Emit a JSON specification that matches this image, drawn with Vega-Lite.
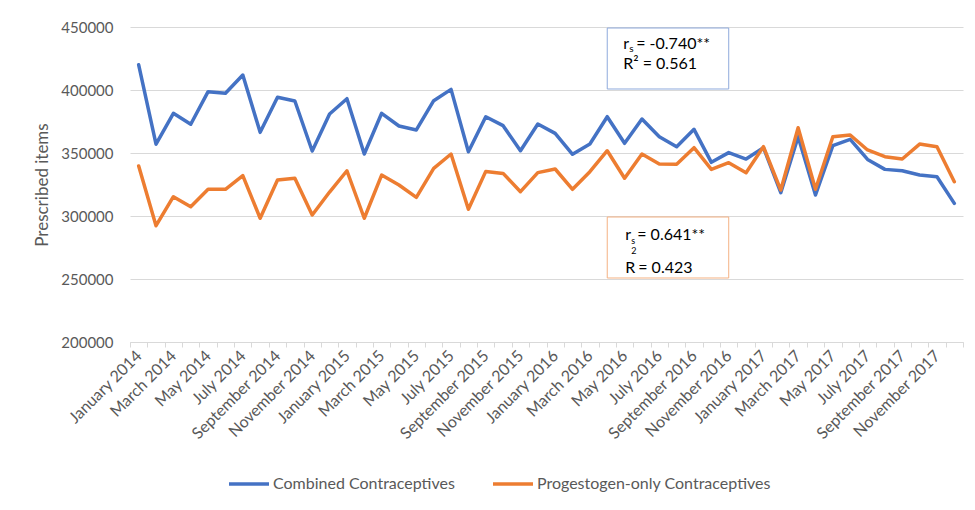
{
  "$schema": "https://vega.github.io/schema/vega-lite/v6.json",
  "width": 833,
  "height": 315,
  "autosize": "none",
  "padding": {"left": 130, "top": 27, "right": 12, "bottom": 168},
  "background": "white",
  "config": {"font": "Lato", "view": {"stroke": null}},
  "datasets": {
    "rx": [
      {"month": "January 2014", "series": "Combined Contraceptives", "items": 420000},
      {"month": "February 2014", "series": "Combined Contraceptives", "items": 357000},
      {"month": "March 2014", "series": "Combined Contraceptives", "items": 381500},
      {"month": "April 2014", "series": "Combined Contraceptives", "items": 372800},
      {"month": "May 2014", "series": "Combined Contraceptives", "items": 398700},
      {"month": "June 2014", "series": "Combined Contraceptives", "items": 397400},
      {"month": "July 2014", "series": "Combined Contraceptives", "items": 411900},
      {"month": "August 2014", "series": "Combined Contraceptives", "items": 366400},
      {"month": "September 2014", "series": "Combined Contraceptives", "items": 394200},
      {"month": "October 2014", "series": "Combined Contraceptives", "items": 391300},
      {"month": "November 2014", "series": "Combined Contraceptives", "items": 351600},
      {"month": "December 2014", "series": "Combined Contraceptives", "items": 381000},
      {"month": "January 2015", "series": "Combined Contraceptives", "items": 393100},
      {"month": "February 2015", "series": "Combined Contraceptives", "items": 349200},
      {"month": "March 2015", "series": "Combined Contraceptives", "items": 381500},
      {"month": "April 2015", "series": "Combined Contraceptives", "items": 371400},
      {"month": "May 2015", "series": "Combined Contraceptives", "items": 368300},
      {"month": "June 2015", "series": "Combined Contraceptives", "items": 391500},
      {"month": "July 2015", "series": "Combined Contraceptives", "items": 400500},
      {"month": "August 2015", "series": "Combined Contraceptives", "items": 351000},
      {"month": "September 2015", "series": "Combined Contraceptives", "items": 378800},
      {"month": "October 2015", "series": "Combined Contraceptives", "items": 371700},
      {"month": "November 2015", "series": "Combined Contraceptives", "items": 351800},
      {"month": "December 2015", "series": "Combined Contraceptives", "items": 373000},
      {"month": "January 2016", "series": "Combined Contraceptives", "items": 365600},
      {"month": "February 2016", "series": "Combined Contraceptives", "items": 349000},
      {"month": "March 2016", "series": "Combined Contraceptives", "items": 357100},
      {"month": "April 2016", "series": "Combined Contraceptives", "items": 378800},
      {"month": "May 2016", "series": "Combined Contraceptives", "items": 357700},
      {"month": "June 2016", "series": "Combined Contraceptives", "items": 377000},
      {"month": "July 2016", "series": "Combined Contraceptives", "items": 362900},
      {"month": "August 2016", "series": "Combined Contraceptives", "items": 355000},
      {"month": "September 2016", "series": "Combined Contraceptives", "items": 368800},
      {"month": "October 2016", "series": "Combined Contraceptives", "items": 342600},
      {"month": "November 2016", "series": "Combined Contraceptives", "items": 350300},
      {"month": "December 2016", "series": "Combined Contraceptives", "items": 345200},
      {"month": "January 2017", "series": "Combined Contraceptives", "items": 354200},
      {"month": "February 2017", "series": "Combined Contraceptives", "items": 318500},
      {"month": "March 2017", "series": "Combined Contraceptives", "items": 362900},
      {"month": "April 2017", "series": "Combined Contraceptives", "items": 316700},
      {"month": "May 2017", "series": "Combined Contraceptives", "items": 355800},
      {"month": "June 2017", "series": "Combined Contraceptives", "items": 360800},
      {"month": "July 2017", "series": "Combined Contraceptives", "items": 344900},
      {"month": "August 2017", "series": "Combined Contraceptives", "items": 337000},
      {"month": "September 2017", "series": "Combined Contraceptives", "items": 335900},
      {"month": "October 2017", "series": "Combined Contraceptives", "items": 332500},
      {"month": "November 2017", "series": "Combined Contraceptives", "items": 331200},
      {"month": "December 2017", "series": "Combined Contraceptives", "items": 310000},
      {"month": "January 2014", "series": "Progestogen-only Contraceptives", "items": 339700},
      {"month": "February 2014", "series": "Progestogen-only Contraceptives", "items": 292300},
      {"month": "March 2014", "series": "Progestogen-only Contraceptives", "items": 315300},
      {"month": "April 2014", "series": "Progestogen-only Contraceptives", "items": 307400},
      {"month": "May 2014", "series": "Progestogen-only Contraceptives", "items": 321200},
      {"month": "June 2014", "series": "Progestogen-only Contraceptives", "items": 321200},
      {"month": "July 2014", "series": "Progestogen-only Contraceptives", "items": 332000},
      {"month": "August 2014", "series": "Progestogen-only Contraceptives", "items": 298200},
      {"month": "September 2014", "series": "Progestogen-only Contraceptives", "items": 328600},
      {"month": "October 2014", "series": "Progestogen-only Contraceptives", "items": 330000},
      {"month": "November 2014", "series": "Progestogen-only Contraceptives", "items": 300800},
      {"month": "December 2014", "series": "Progestogen-only Contraceptives", "items": 319000},
      {"month": "January 2015", "series": "Progestogen-only Contraceptives", "items": 335900},
      {"month": "February 2015", "series": "Progestogen-only Contraceptives", "items": 298200},
      {"month": "March 2015", "series": "Progestogen-only Contraceptives", "items": 332500},
      {"month": "April 2015", "series": "Progestogen-only Contraceptives", "items": 324600},
      {"month": "May 2015", "series": "Progestogen-only Contraceptives", "items": 314800},
      {"month": "June 2015", "series": "Progestogen-only Contraceptives", "items": 337800},
      {"month": "July 2015", "series": "Progestogen-only Contraceptives", "items": 349200},
      {"month": "August 2015", "series": "Progestogen-only Contraceptives", "items": 305300},
      {"month": "September 2015", "series": "Progestogen-only Contraceptives", "items": 335400},
      {"month": "October 2015", "series": "Progestogen-only Contraceptives", "items": 333800},
      {"month": "November 2015", "series": "Progestogen-only Contraceptives", "items": 319300},
      {"month": "December 2015", "series": "Progestogen-only Contraceptives", "items": 334400},
      {"month": "January 2016", "series": "Progestogen-only Contraceptives", "items": 337300},
      {"month": "February 2016", "series": "Progestogen-only Contraceptives", "items": 321200},
      {"month": "March 2016", "series": "Progestogen-only Contraceptives", "items": 335200},
      {"month": "April 2016", "series": "Progestogen-only Contraceptives", "items": 351800},
      {"month": "May 2016", "series": "Progestogen-only Contraceptives", "items": 330000},
      {"month": "June 2016", "series": "Progestogen-only Contraceptives", "items": 349200},
      {"month": "July 2016", "series": "Progestogen-only Contraceptives", "items": 341300},
      {"month": "August 2016", "series": "Progestogen-only Contraceptives", "items": 341000},
      {"month": "September 2016", "series": "Progestogen-only Contraceptives", "items": 354200},
      {"month": "October 2016", "series": "Progestogen-only Contraceptives", "items": 337000},
      {"month": "November 2016", "series": "Progestogen-only Contraceptives", "items": 342300},
      {"month": "December 2016", "series": "Progestogen-only Contraceptives", "items": 334400},
      {"month": "January 2017", "series": "Progestogen-only Contraceptives", "items": 355000},
      {"month": "February 2017", "series": "Progestogen-only Contraceptives", "items": 320600},
      {"month": "March 2017", "series": "Progestogen-only Contraceptives", "items": 370100},
      {"month": "April 2017", "series": "Progestogen-only Contraceptives", "items": 321200},
      {"month": "May 2017", "series": "Progestogen-only Contraceptives", "items": 362900},
      {"month": "June 2017", "series": "Progestogen-only Contraceptives", "items": 364300},
      {"month": "July 2017", "series": "Progestogen-only Contraceptives", "items": 352400},
      {"month": "August 2017", "series": "Progestogen-only Contraceptives", "items": 347100},
      {"month": "September 2017", "series": "Progestogen-only Contraceptives", "items": 345200},
      {"month": "October 2017", "series": "Progestogen-only Contraceptives", "items": 357100},
      {"month": "November 2017", "series": "Progestogen-only Contraceptives", "items": 355000},
      {"month": "December 2017", "series": "Progestogen-only Contraceptives", "items": 327200}
    ]
  },
  "layer": [
    {
      "data": {"name": "rx"},
      "mark": {"type": "line", "strokeWidth": 3.5, "strokeJoin": "round", "strokeCap": "round"},
      "encoding": {
        "x": {
          "field": "month",
          "type": "ordinal",
          "sort": null,
          "scale": {
            "type": "band",
            "paddingInner": 0,
            "paddingOuter": 0,
            "domain": ["January 2014","February 2014","March 2014","April 2014","May 2014","June 2014","July 2014","August 2014","September 2014","October 2014","November 2014","December 2014","January 2015","February 2015","March 2015","April 2015","May 2015","June 2015","July 2015","August 2015","September 2015","October 2015","November 2015","December 2015","January 2016","February 2016","March 2016","April 2016","May 2016","June 2016","July 2016","August 2016","September 2016","October 2016","November 2016","December 2016","January 2017","February 2017","March 2017","April 2017","May 2017","June 2017","July 2017","August 2017","September 2017","October 2017","November 2017","December 2017"]
          },
          "axis": {
            "title": null,
            "grid": false,
            "labelAngle": -45,
            "labelAlign": "right",
            "labelBaseline": "middle",
            "labelFontSize": 16,
            "labelColor": "#595959",
            "labelPadding": 6,
            "labelOverlap": false,
            "labelLimit": 0,
            "labelExpr": "indexof(['January','March','May','July','September','November'], split(datum.value, ' ')[0]) >= 0 ? datum.value : ''",
            "tickBand": "extent",
            "tickColor": "#d9d9d9",
            "tickSize": 5,
            "domainColor": "#d9d9d9",
            "domainWidth": 1
          }
        },
        "y": {
          "field": "items",
          "type": "quantitative",
          "scale": {"domain": [200000, 450000], "nice": false, "zero": false},
          "axis": {
            "title": "Prescribed items",
            "titleFontSize": 17,
            "titleFontWeight": "normal",
            "titleColor": "#595959",
            "titlePadding": 9,
            "values": [200000, 250000, 300000, 350000, 400000, 450000],
            "format": "d",
            "labelFontSize": 15,
            "labelColor": "#595959",
            "labelPadding": 17,
            "domain": false,
            "ticks": false,
            "gridColor": "#d9d9d9",
            "gridWidth": 1
          }
        },
        "color": {
          "field": "series",
          "type": "nominal",
          "scale": {"domain": ["Combined Contraceptives", "Progestogen-only Contraceptives"], "range": ["#4472C4", "#ED7D31"]},
          "legend": {
            "title": null,
            "orient": "none",
            "legendX": 97,
            "legendY": 435,
            "direction": "horizontal",
            "symbolType": "stroke",
            "symbolSize": 1600,
            "symbolStrokeWidth": 3.5,
            "labelFontSize": 16,
            "labelLimit": 0,
            "labelColor": "#595959",
            "labelOffset": 2,
            "columnPadding": 31
          }
        }
      }
    },
    {
      "data": {"values": [{"box": "combined"}]},
      "mark": {"type": "rect", "fill": "white", "fillOpacity": 0, "stroke": "#8FAADC", "strokeWidth": 1},
      "encoding": {
        "x": {"datum": "April 2016", "type": "ordinal", "bandPosition": 0.5},
        "x2": {"datum": "November 2016"},
        "y": {"datum": 449200, "type": "quantitative"},
        "y2": {"datum": 400800}
      }
    },
    {
      "data": {"values": [{"box": "progestogen"}]},
      "mark": {"type": "rect", "fill": "white", "fillOpacity": 0, "stroke": "#F4B183", "strokeWidth": 1},
      "encoding": {
        "x": {"datum": "April 2016", "type": "ordinal", "bandPosition": 0.5},
        "x2": {"datum": "November 2016"},
        "y": {"datum": 299200, "type": "quantitative"},
        "y2": {"datum": 250800}
      }
    },
    {
      "data": {"values": [{"box": "combined"}]},
      "mark": {"type": "text", "align": "left", "baseline": "middle", "fontSize": 16, "color": "#000000", "dx": 16},
      "encoding": {"x": {"datum": "April 2016", "type": "ordinal"}, "y": {"datum": 436300, "type": "quantitative"}, "text": {"value": "r"}}
    },
    {
      "data": {"values": [{"box": "combined"}]},
      "mark": {"type": "text", "align": "left", "baseline": "middle", "fontSize": 10, "color": "#000000", "dx": 22, "dy": 5},
      "encoding": {"x": {"datum": "April 2016", "type": "ordinal"}, "y": {"datum": 436300, "type": "quantitative"}, "text": {"value": "s"}}
    },
    {
      "data": {"values": [{"box": "combined"}]},
      "mark": {"type": "text", "align": "left", "baseline": "middle", "fontSize": 16, "color": "#000000", "dx": 29},
      "encoding": {"x": {"datum": "April 2016", "type": "ordinal"}, "y": {"datum": 436300, "type": "quantitative"}, "text": {"value": "= -0.740**"}}
    },
    {
      "data": {"values": [{"box": "combined"}]},
      "mark": {"type": "text", "align": "left", "baseline": "middle", "fontSize": 16, "color": "#000000", "dx": 16},
      "encoding": {"x": {"datum": "April 2016", "type": "ordinal"}, "y": {"datum": 420900, "type": "quantitative"}, "text": {"value": "R² = 0.561"}}
    },
    {
      "data": {"values": [{"box": "progestogen"}]},
      "mark": {"type": "text", "align": "left", "baseline": "middle", "fontSize": 16, "color": "#000000", "dx": 18},
      "encoding": {"x": {"datum": "April 2016", "type": "ordinal"}, "y": {"datum": 284900, "type": "quantitative"}, "text": {"value": "r"}}
    },
    {
      "data": {"values": [{"box": "progestogen"}]},
      "mark": {"type": "text", "align": "left", "baseline": "middle", "fontSize": 16, "color": "#000000", "dx": 30},
      "encoding": {"x": {"datum": "April 2016", "type": "ordinal"}, "y": {"datum": 284900, "type": "quantitative"}, "text": {"value": "= 0.641**"}}
    },
    {
      "data": {"values": [{"box": "progestogen"}]},
      "mark": {"type": "text", "align": "left", "baseline": "middle", "fontSize": 9, "color": "#000000", "dx": 24},
      "encoding": {"x": {"datum": "April 2016", "type": "ordinal"}, "y": {"datum": 280200, "type": "quantitative"}, "text": {"value": "s"}}
    },
    {
      "data": {"values": [{"box": "progestogen"}]},
      "mark": {"type": "text", "align": "left", "baseline": "middle", "fontSize": 9, "color": "#000000", "dx": 24},
      "encoding": {"x": {"datum": "April 2016", "type": "ordinal"}, "y": {"datum": 272200, "type": "quantitative"}, "text": {"value": "2"}}
    },
    {
      "data": {"values": [{"box": "progestogen"}]},
      "mark": {"type": "text", "align": "left", "baseline": "middle", "fontSize": 16, "color": "#000000", "dx": 18},
      "encoding": {"x": {"datum": "April 2016", "type": "ordinal"}, "y": {"datum": 258700, "type": "quantitative"}, "text": {"value": "R"}}
    },
    {
      "data": {"values": [{"box": "progestogen"}]},
      "mark": {"type": "text", "align": "left", "baseline": "middle", "fontSize": 16, "color": "#000000", "dx": 31},
      "encoding": {"x": {"datum": "April 2016", "type": "ordinal"}, "y": {"datum": 258700, "type": "quantitative"}, "text": {"value": "= 0.423"}}
    }
  ]
}
